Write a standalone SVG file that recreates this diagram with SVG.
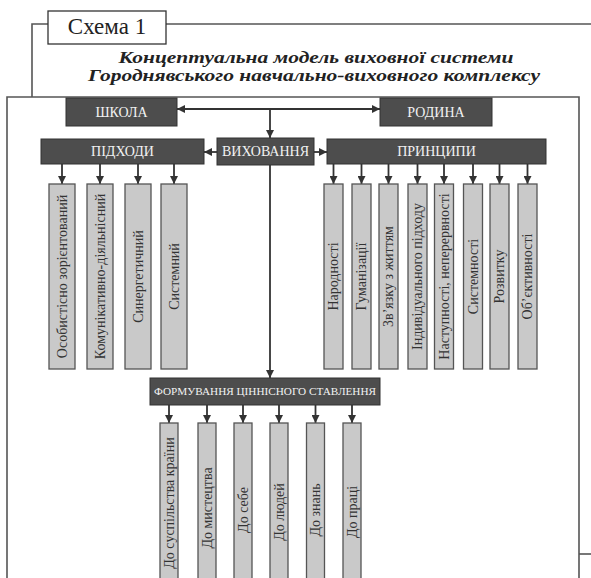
<svg xmlns="http://www.w3.org/2000/svg" width="591" height="578" viewBox="0 0 591 578">
<defs>
<marker id="ah" viewBox="0 0 10 10" refX="10" refY="5" markerWidth="8" markerHeight="8" markerUnits="userSpaceOnUse" orient="auto">
<path d="M0,0 L10,5 L0,10 z" fill="#333"/>
</marker>
</defs>
<style>
.frame{fill:none;stroke:#555;stroke-width:1.6}
.dark{fill:#4d4d4d;stroke:#333;stroke-width:1}
.light{fill:#c9c9c9;stroke:#555;stroke-width:1.3}
.wt{font-family:"Liberation Serif","Times New Roman",serif;font-size:14px;fill:#f2f2f2;text-anchor:middle;dominant-baseline:central}
.vt{font-family:"Liberation Serif","Times New Roman",serif;font-size:14px;fill:#333;text-anchor:middle;dominant-baseline:central}
.title{font-family:"Liberation Serif","Times New Roman",serif;font-size:16px;font-weight:bold;font-style:italic;fill:#222;text-anchor:middle}
.con{fill:none;stroke:#333;stroke-width:1.8;marker-end:url(#ah)}
</style>
<rect width="591" height="578" fill="#fff"/>
<g id="frame">
<polyline class="frame" points="48,24 32,24 32,97"/>
<line class="frame" x1="166" y1="24" x2="591" y2="24"/>
<polyline class="frame" points="7,578 7,97 579,97 579,578"/>
<line class="frame" x1="579" y1="554" x2="591" y2="554"/>
<rect x="48" y="11" width="118" height="33" fill="#fff" stroke="#333" stroke-width="1.3"/>
<text x="107" y="34" font-family="Liberation Serif, Times New Roman, serif" font-size="23" fill="#222" text-anchor="middle">Схема 1</text>
</g>
<g id="title">
<text class="title" x="316" y="62.5" textLength="395" lengthAdjust="spacingAndGlyphs">Концептуальна модель виховної системи</text>
<text class="title" x="314" y="81" textLength="452" lengthAdjust="spacingAndGlyphs">Городнявського навчально-виховного комплексу</text>
</g>
<g id="connectors">
<line class="con" x1="270" y1="109" x2="177" y2="109"/>
<line class="con" x1="270" y1="109" x2="380" y2="109"/>
<line class="con" x1="270" y1="109" x2="270" y2="138"/>
<line class="con" x1="217" y1="152" x2="204" y2="152"/>
<line class="con" x1="314" y1="152" x2="327" y2="152"/>
<line class="con" x1="270" y1="165" x2="270" y2="378"/>
<line class="con" x1="62" y1="164" x2="62" y2="184"/>
<line class="con" x1="100" y1="164" x2="100" y2="184"/>
<line class="con" x1="138" y1="164" x2="138" y2="184"/>
<line class="con" x1="174" y1="164" x2="174" y2="184"/>
<line class="con" x1="333.5" y1="164" x2="333.5" y2="184"/>
<line class="con" x1="361.5" y1="164" x2="361.5" y2="184"/>
<line class="con" x1="388.5" y1="164" x2="388.5" y2="184"/>
<line class="con" x1="417.5" y1="164" x2="417.5" y2="184"/>
<line class="con" x1="444" y1="164" x2="444" y2="184"/>
<line class="con" x1="473" y1="164" x2="473" y2="184"/>
<line class="con" x1="499.5" y1="164" x2="499.5" y2="184"/>
<line class="con" x1="527.5" y1="164" x2="527.5" y2="184"/>
<line class="con" x1="169" y1="405" x2="169" y2="423"/>
<line class="con" x1="207" y1="405" x2="207" y2="423"/>
<line class="con" x1="243" y1="405" x2="243" y2="423"/>
<line class="con" x1="279" y1="405" x2="279" y2="423"/>
<line class="con" x1="315.5" y1="405" x2="315.5" y2="423"/>
<line class="con" x1="352" y1="405" x2="352" y2="423"/>
</g>
<g id="shkola"><rect class="dark" x="66" y="98" width="111" height="28"/><text class="wt" x="121.5" y="112">ШКОЛА</text></g>
<g id="rodyna"><rect class="dark" x="380" y="98" width="112" height="28"/><text class="wt" x="436" y="112">РОДИНА</text></g>
<g id="pidkhody"><rect class="dark" x="41" y="139" width="163" height="25"/><text class="wt" x="122.5" y="151.5">ПІДХОДИ</text></g>
<g id="vykhovannia"><rect class="dark" x="217" y="138" width="97" height="27"/><text class="wt" x="265.5" y="151.5">ВИХОВАННЯ</text></g>
<g id="pryntsypy"><rect class="dark" x="327" y="139" width="219" height="25"/><text class="wt" x="436.5" y="151.5">ПРИНЦИПИ</text></g>
<g id="formuvannia"><rect class="dark" x="150" y="378" width="230" height="27"/><text class="wt" x="265" y="391.5" style="font-size:10.5px" textLength="222" lengthAdjust="spacingAndGlyphs">ФОРМУВАННЯ ЦІННІСНОГО СТАВЛЕННЯ</text></g>
<g id="a1"><rect class="light" x="49" y="184" width="26" height="185"/><text class="vt" transform="translate(62,276.5) rotate(-90)">Особистісно зорієнтований</text></g>
<g id="a2"><rect class="light" x="87" y="184" width="26" height="185"/><text class="vt" transform="translate(100,276.5) rotate(-90)">Комунікативно-діяльнісний</text></g>
<g id="a3"><rect class="light" x="125" y="184" width="26" height="185"/><text class="vt" transform="translate(138,276.5) rotate(-90)">Синергетичний</text></g>
<g id="a4"><rect class="light" x="161" y="184" width="26" height="185"/><text class="vt" transform="translate(174,276.5) rotate(-90)">Системний</text></g>
<g id="p1"><rect class="light" x="324" y="184" width="19" height="185"/><text class="vt" transform="translate(333.5,276.5) rotate(-90)">Народності</text></g>
<g id="p2"><rect class="light" x="352" y="184" width="19" height="185"/><text class="vt" transform="translate(361.5,276.5) rotate(-90)">Гуманізації</text></g>
<g id="p3"><rect class="light" x="379" y="184" width="19" height="185"/><text class="vt" transform="translate(388.5,276.5) rotate(-90)">Зв’язку з життям</text></g>
<g id="p4"><rect class="light" x="408" y="184" width="19" height="185"/><text class="vt" transform="translate(417.5,276.5) rotate(-90)">Індивідуального підходу</text></g>
<g id="p5"><rect class="light" x="434.5" y="184" width="19" height="185"/><text class="vt" transform="translate(444,276.5) rotate(-90)">Наступності, неперервності</text></g>
<g id="p6"><rect class="light" x="463.5" y="184" width="19" height="185"/><text class="vt" transform="translate(473,276.5) rotate(-90)">Системності</text></g>
<g id="p7"><rect class="light" x="490" y="184" width="19" height="185"/><text class="vt" transform="translate(499.5,276.5) rotate(-90)">Розвитку</text></g>
<g id="p8"><rect class="light" x="518" y="184" width="19" height="185"/><text class="vt" transform="translate(527.5,276.5) rotate(-90)">Об’єктивності</text></g>
<g id="s1"><rect class="light" x="160" y="423" width="18" height="160"/><text class="vt" transform="translate(169,503) rotate(-90)">До суспільства країни</text></g>
<g id="s2"><rect class="light" x="198" y="423" width="18" height="160"/><text class="vt" transform="translate(207,508) rotate(-90)">До мистецтва</text></g>
<g id="s3"><rect class="light" x="234" y="423" width="18" height="160"/><text class="vt" transform="translate(243,510) rotate(-90)">До себе</text></g>
<g id="s4"><rect class="light" x="270" y="423" width="18" height="160"/><text class="vt" transform="translate(279,512) rotate(-90)">До людей</text></g>
<g id="s5"><rect class="light" x="306.5" y="423" width="18" height="160"/><text class="vt" transform="translate(315.5,510) rotate(-90)">До знань</text></g>
<g id="s6"><rect class="light" x="343" y="423" width="18" height="160"/><text class="vt" transform="translate(352,512) rotate(-90)">До праці</text></g>
</svg>
